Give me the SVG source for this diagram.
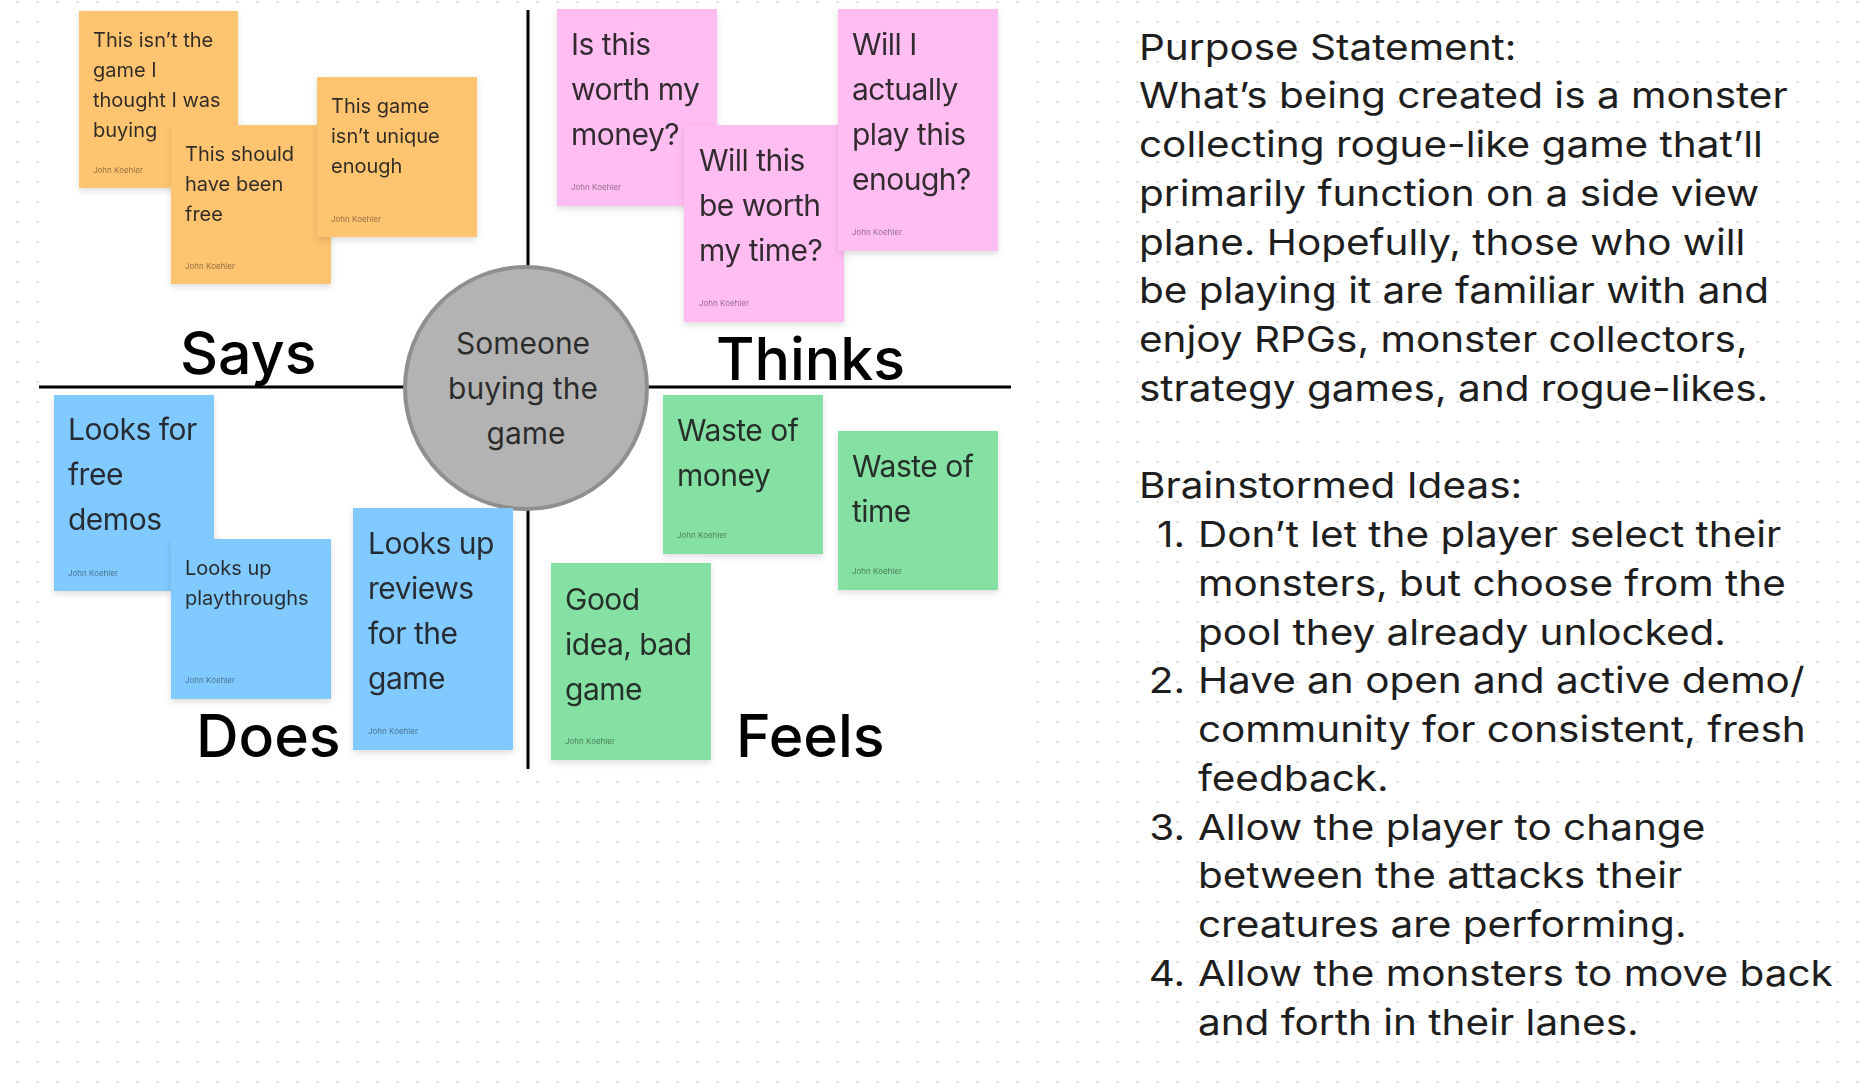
<svg xmlns="http://www.w3.org/2000/svg" width="1872" height="1090" viewBox="0 0 1872 1090">
<style>
.note-t{font-family:Inter,"Noto Sans","Liberation Sans",sans-serif;fill:#1e1e1e;fill-opacity:.92}
.big{font-size:30px;letter-spacing:-0.5px}
.small{font-size:20px}
.author{font-family:Inter,"Noto Sans","Liberation Sans",sans-serif;font-size:8px;fill:#000;fill-opacity:.45}
.label{font-family:Inter,"Noto Sans","Liberation Sans",sans-serif;font-size:59px;font-weight:500;fill:#000}
.para{font-family:Inter,"Noto Sans","Liberation Sans",sans-serif;font-size:36px;fill:#1e1e1e}
.orange{fill:#FFC470}
.pink{fill:#FFBDF2}
.blue{fill:#80CAFF}
.green{fill:#85E0A3}
.axis{stroke:#000;stroke-width:3;fill:none}
</style>
<defs>
<pattern id="dots" patternUnits="userSpaceOnUse" width="20" height="20">
<circle cx="17.5" cy="2" r="1" fill="#cdcdcd"/>
</pattern>
<filter id="sh" x="-20%" y="-20%" width="140%" height="140%">
<feDropShadow dx="0" dy="3" stdDeviation="3" flood-color="#000" flood-opacity="0.13"/>
</filter>
</defs>
<rect width="1872" height="1090" fill="#fff"/>
<rect width="1872" height="1090" fill="url(#dots)"/>
<rect x="40" y="7" width="980" height="770" fill="#fff"/>

<g id="axes">
<line class="axis" x1="39" y1="387" x2="1011" y2="387"/>
<line class="axis" x1="528" y1="10" x2="528" y2="769"/>
</g>

<g id="center">
<circle cx="526" cy="388" r="121" fill="#b3b3b3" stroke="#8f8f8f" stroke-width="4"/>
<text class="note-t" font-size="30" text-anchor="middle" fill="#2a2a2a"><tspan x="523" y="354">Someone</tspan><tspan x="523" y="399">buying the</tspan><tspan x="526" y="444">game</tspan></text>
</g>

<g id="labels">
<text class="label" x="180" y="374">Says</text>
<text class="label" x="716" y="380">Thinks</text>
<text class="label" x="196" y="757">Does</text>
<text class="label" x="736" y="757">Feels</text>
</g>

<g id="says">
<g id="o1" filter="url(#sh)"><rect class="orange" x="79" y="11" width="159" height="177"/>
<text class="note-t small"><tspan x="93" y="47">This isn’t the</tspan><tspan x="93" y="77">game I</tspan><tspan x="93" y="107">thought I was</tspan><tspan x="93" y="137">buying</tspan></text>
<text class="author" x="93" y="173">John Koehler</text></g>
<g id="o2" filter="url(#sh)"><rect class="orange" x="171" y="125" width="160" height="159"/>
<text class="note-t small"><tspan x="185" y="161">This should</tspan><tspan x="185" y="191">have been</tspan><tspan x="185" y="221">free</tspan></text>
<text class="author" x="185" y="269">John Koehler</text></g>
<g id="o3" filter="url(#sh)"><rect class="orange" x="317" y="77" width="160" height="160"/>
<text class="note-t small"><tspan x="331" y="113">This game</tspan><tspan x="331" y="143">isn’t unique</tspan><tspan x="331" y="173">enough</tspan></text>
<text class="author" x="331" y="222">John Koehler</text></g>
</g>

<g id="thinks">
<g id="p1" filter="url(#sh)"><rect class="pink" x="557" y="9" width="160" height="197"/>
<text class="note-t big"><tspan x="571" y="55">Is this</tspan><tspan x="571" y="100">worth my</tspan><tspan x="571" y="145">money?</tspan></text>
<text class="author" x="571" y="190">John Koehler</text></g>
<g id="p2" filter="url(#sh)"><rect class="pink" x="684" y="125" width="160" height="197"/>
<text class="note-t big"><tspan x="699" y="171">Will this</tspan><tspan x="699" y="216">be worth</tspan><tspan x="699" y="261">my time?</tspan></text>
<text class="author" x="699" y="306">John Koehler</text></g>
<g id="p3" filter="url(#sh)"><rect class="pink" x="838" y="9" width="160" height="242"/>
<text class="note-t big"><tspan x="852" y="55">Will I</tspan><tspan x="852" y="100">actually</tspan><tspan x="852" y="145">play this</tspan><tspan x="852" y="190">enough?</tspan></text>
<text class="author" x="852" y="235">John Koehler</text></g>
</g>

<g id="does">
<g id="b1" filter="url(#sh)"><rect class="blue" x="54" y="395" width="160" height="196"/>
<text class="note-t big"><tspan x="68" y="440">Looks for</tspan><tspan x="68" y="485">free</tspan><tspan x="68" y="530">demos</tspan></text>
<text class="author" x="68" y="576">John Koehler</text></g>
<g id="b2" filter="url(#sh)"><rect class="blue" x="171" y="539" width="160" height="160"/>
<text class="note-t small"><tspan x="185" y="575">Looks up</tspan><tspan x="185" y="605">playthroughs</tspan></text>
<text class="author" x="185" y="683">John Koehler</text></g>
<g id="b3" filter="url(#sh)"><rect class="blue" x="353" y="508" width="160" height="242"/>
<text class="note-t big"><tspan x="368" y="554">Looks up</tspan><tspan x="368" y="599">reviews</tspan><tspan x="368" y="644">for the</tspan><tspan x="368" y="689">game</tspan></text>
<text class="author" x="368" y="734">John Koehler</text></g>
</g>

<g id="feels">
<g id="g1" filter="url(#sh)"><rect class="green" x="663" y="395" width="160" height="159"/>
<text class="note-t big"><tspan x="677" y="441">Waste of</tspan><tspan x="677" y="486">money</tspan></text>
<text class="author" x="677" y="538">John Koehler</text></g>
<g id="g2" filter="url(#sh)"><rect class="green" x="838" y="431" width="160" height="159"/>
<text class="note-t big"><tspan x="852" y="477">Waste of</tspan><tspan x="852" y="522">time</tspan></text>
<text class="author" x="852" y="574">John Koehler</text></g>
<g id="g3" filter="url(#sh)"><rect class="green" x="551" y="563" width="160" height="197"/>
<text class="note-t big"><tspan x="565" y="610">Good</tspan><tspan x="565" y="655">idea, bad</tspan><tspan x="565" y="700">game</tspan></text>
<text class="author" x="565" y="744">John Koehler</text></g>
</g>

<g id="notes-text" transform="translate(1139 0) scale(1.125 1) translate(-1139 0)">
<text class="para"><tspan x="1139" y="59.6">Purpose Statement:</tspan><tspan x="1139" y="108.35">What’s being created is a monster</tspan><tspan x="1139" y="157.1">collecting rogue-like game that’ll</tspan><tspan x="1139" y="205.85">primarily function on a side view</tspan><tspan x="1139" y="254.6">plane. Hopefully, those who will</tspan><tspan x="1139" y="303.35">be playing it are familiar with and</tspan><tspan x="1139" y="352.1">enjoy RPGs, monster collectors,</tspan><tspan x="1139" y="400.85">strategy games, and rogue-likes.</tspan><tspan x="1139" y="498.35">Brainstormed Ideas:</tspan></text>
<text class="para" text-anchor="end"><tspan x="1180" y="547.1">1.</tspan><tspan x="1180" y="693.35">2.</tspan><tspan x="1180" y="839.6">3.</tspan><tspan x="1180" y="985.85">4.</tspan></text>
<text class="para"><tspan x="1191.4" y="547.1">Don’t let the player select their</tspan><tspan x="1191.4" y="595.85">monsters, but choose from the</tspan><tspan x="1191.4" y="644.6">pool they already unlocked.</tspan><tspan x="1191.4" y="693.35">Have an open and active demo/</tspan><tspan x="1191.4" y="742.1">community for consistent, fresh</tspan><tspan x="1191.4" y="790.85">feedback.</tspan><tspan x="1191.4" y="839.6">Allow the player to change</tspan><tspan x="1191.4" y="888.35">between the attacks their</tspan><tspan x="1191.4" y="937.1">creatures are performing.</tspan><tspan x="1191.4" y="985.85">Allow the monsters to move back</tspan><tspan x="1191.4" y="1034.6">and forth in their lanes.</tspan></text>
</g>
</svg>
